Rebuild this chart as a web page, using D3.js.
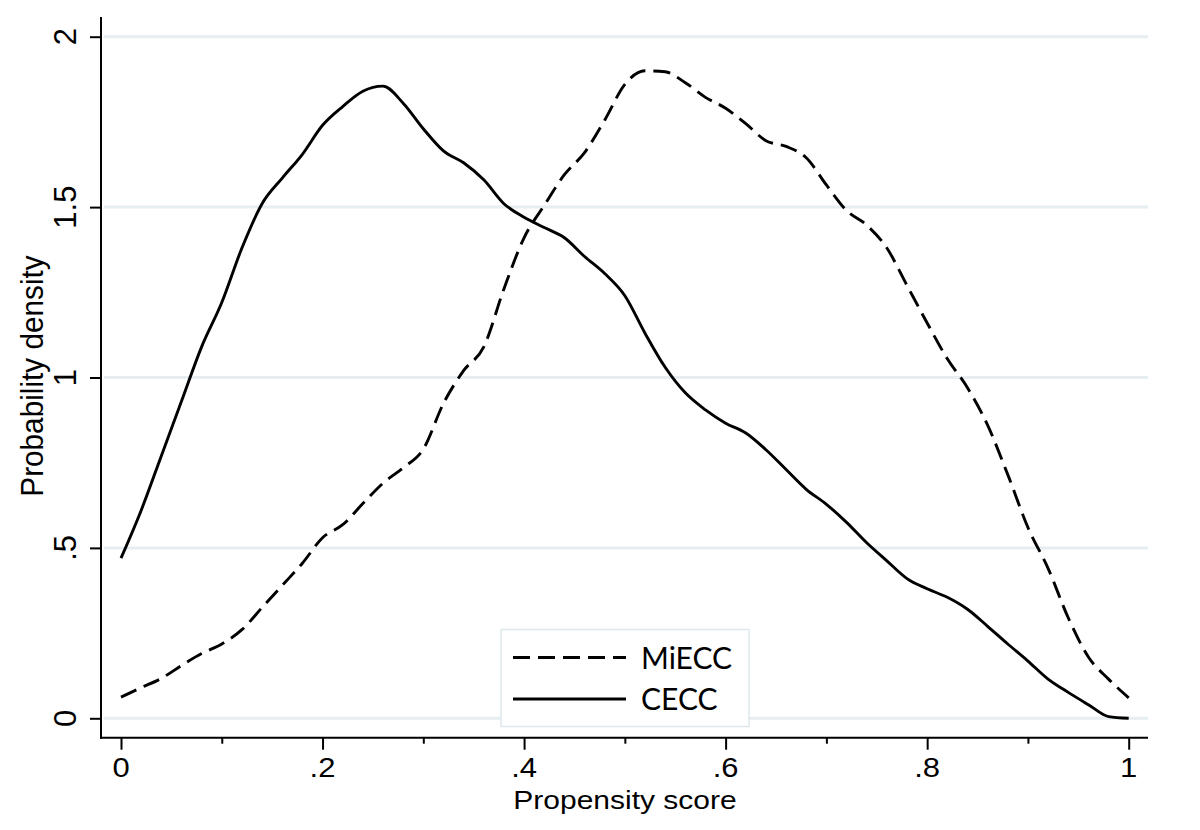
<!DOCTYPE html>
<html>
<head>
<meta charset="utf-8">
<script src="https://cdn.jsdelivr.net/npm/d3@7"></script>
<style>
  html, body { margin: 0; padding: 0; background: #ffffff; }
  svg { display: block; }
</style>
</head>
<body>
<svg id="chart" width="1200" height="830"></svg>
<script>
// ---- data ----
const scores = [0.00,0.02,0.04,0.06,0.08,0.10,0.12,0.14,0.16,0.18,0.20,0.22,0.24,0.26,0.28,0.30,0.32,0.34,0.36,0.38,0.40,0.42,0.44,0.46,0.48,0.50,0.52,0.54,0.56,0.58,0.60,0.62,0.64,0.66,0.68,0.70,0.72,0.74,0.76,0.78,0.80,0.82,0.84,0.86,0.88,0.90,0.92,0.94,0.96,0.98,1.00];
const miecc = [0.062,0.090,0.117,0.155,0.190,0.218,0.260,0.325,0.390,0.455,0.530,0.568,0.630,0.690,0.735,0.790,0.924,1.020,1.090,1.260,1.410,1.505,1.595,1.660,1.755,1.860,1.900,1.897,1.865,1.822,1.790,1.745,1.695,1.678,1.645,1.565,1.490,1.447,1.380,1.270,1.160,1.055,0.970,0.860,0.715,0.560,0.440,0.295,0.180,0.115,0.060];
const cecc = [0.470,0.610,0.770,0.930,1.090,1.220,1.380,1.510,1.585,1.655,1.740,1.795,1.840,1.855,1.805,1.730,1.665,1.630,1.580,1.510,1.470,1.440,1.410,1.355,1.305,1.240,1.130,1.030,0.955,0.905,0.866,0.837,0.788,0.730,0.672,0.628,0.575,0.515,0.462,0.410,0.380,0.355,0.320,0.270,0.218,0.168,0.115,0.076,0.040,0.005,0.000];
const xTickValues = [0, 0.2, 0.4, 0.6, 0.8, 1];
const xTickLabels = ["0", ".2", ".4", ".6", ".8", "1"];
const xMinorTicks = [0.1, 0.3, 0.5, 0.7, 0.9];
const yTickValues = [0, 0.5, 1, 1.5, 2];
const yTickLabels = ["0", ".5", "1", "1.5", "2"];
const seriesNames = ["MiECC", "CECC"];
const xTitle = "Propensity score";
const yTitle = "Probability density";

// ---- layout ----
const svg = d3.select("#chart");
const x = d3.scaleLinear().domain([0, 1]).range([121, 1128.7]);
const y = d3.scaleLinear().domain([0, 2]).range([718.3, 36.7]);
const axisLeftX = 101, axisBottomY = 737.7, plotRight = 1148, axisTop = 17;
const gridColor = "#e6eef1";
const font = "'Liberation Sans', Arial, sans-serif";
const lw = 2.9;

// gridlines
svg.append("g").selectAll("line").data(yTickValues).join("line")
  .attr("x1", 104).attr("x2", plotRight)
  .attr("y1", d => y(d)).attr("y2", d => y(d))
  .attr("stroke", gridColor).attr("stroke-width", 3);

// axes via d3
const gx = svg.append("g").attr("transform", `translate(0,${axisBottomY})`)
  .call(d3.axisBottom(x).tickValues(xTickValues).tickSize(12).tickSizeOuter(0).tickFormat(""));
const gxm = svg.append("g").attr("transform", `translate(0,${axisBottomY})`)
  .call(d3.axisBottom(x).tickValues(xMinorTicks).tickSize(6).tickSizeOuter(0).tickFormat(""));
const gy = svg.append("g").attr("transform", `translate(${axisLeftX},0)`)
  .call(d3.axisLeft(y).tickValues(yTickValues).tickSize(11).tickSizeOuter(0).tickFormat(""));
[gx, gxm, gy].forEach(g => {
  g.select(".domain").remove();
  g.selectAll(".tick line").attr("stroke", "#000").attr("stroke-width", 2);
});
// axis lines
svg.append("line").attr("x1", axisLeftX).attr("x2", axisLeftX).attr("y1", axisTop).attr("y2", axisBottomY + 1)
  .attr("stroke", "#000").attr("stroke-width", 2);
svg.append("line").attr("x1", axisLeftX - 1).attr("x2", plotRight).attr("y1", axisBottomY).attr("y2", axisBottomY)
  .attr("stroke", "#000").attr("stroke-width", 2);

// tick labels
svg.append("g").selectAll("text").data(xTickValues).join("text")
  .attr("transform", d => `translate(${x(d)},776.5) scale(1,0.9)`)
  .attr("text-anchor", "middle").attr("font-family", font).attr("font-size", 31)
  .attr("fill", "#000").text((d, i) => xTickLabels[i]);
svg.append("g").selectAll("text").data(yTickValues).join("text")
  .attr("transform", d => `translate(76,${y(d)}) rotate(-90)`)
  .attr("text-anchor", "middle").attr("font-family", font).attr("font-size", 31)
  .attr("fill", "#000").text((d, i) => yTickLabels[i]);

// axis titles
svg.append("text").attr("transform", "translate(625,809) scale(1,0.84)")
  .attr("text-anchor", "middle").attr("font-family", font).attr("font-size", 30)
  .attr("fill", "#000").text(xTitle);
svg.append("text").attr("transform", "translate(43,376) scale(1,0.93) rotate(-90)")
  .attr("text-anchor", "middle").attr("font-family", font).attr("font-size", 32)
  .attr("fill", "#000").text(yTitle);

// lines
const line = d3.line().x(d => x(d[0])).y(d => y(d[1])).curve(d3.curveMonotoneX);
const dataM = scores.map((s, i) => [s, miecc[i]]);
const dataC = scores.map((s, i) => [s, cecc[i]]);
svg.append("path").datum(dataM).attr("d", line).attr("fill", "none")
  .attr("stroke", "#000").attr("stroke-width", lw).attr("stroke-dasharray", "17,8");
svg.append("path").datum(dataC).attr("d", line).attr("fill", "none")
  .attr("stroke", "#000").attr("stroke-width", lw);

// legend
const lg = svg.append("g");
lg.append("rect").attr("x", 501).attr("y", 629.5).attr("width", 248).attr("height", 97)
  .attr("fill", "#fff").attr("stroke", "#dde8ec").attr("stroke-width", 1.5);
const legendRows = [
  { name: seriesNames[0], dash: "17,8", ly: 657.5, ty: 668.5 },
  { name: seriesNames[1], dash: null, ly: 699, ty: 709.5 }
];
legendRows.forEach(r => {
  const l = lg.append("line").attr("x1", 513).attr("x2", 626).attr("y1", r.ly).attr("y2", r.ly)
    .attr("stroke", "#000").attr("stroke-width", lw);
  if (r.dash) l.attr("stroke-dasharray", r.dash);
  lg.append("text").attr("x", 641).attr("y", r.ty).attr("font-family", "Lato, 'Open Sans', sans-serif")
    .attr("font-size", 30).attr("fill", "#000").text(r.name);
});
</script>
</body>
</html>
